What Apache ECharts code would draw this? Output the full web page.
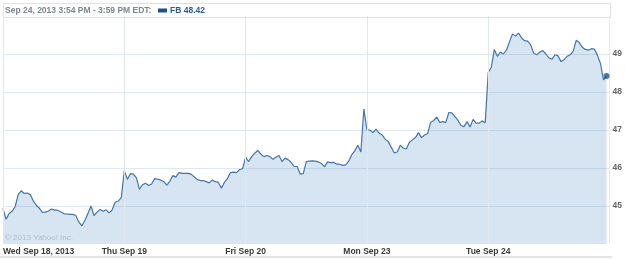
<!DOCTYPE html>
<html>
<head>
<meta charset="utf-8">
<script src="https://cdn.jsdelivr.net/npm/echarts@6/dist/echarts.min.js"></script>
<style>
  html, body { margin: 0; padding: 0; background: #fff; }
  #chart { width: 625px; height: 259px; }
</style>
</head>
<body>
<div id="chart"></div>
<script>
// 5-minute FB prices (40 samples per trading day)
const wed = [44.94,44.65,44.80,44.86,44.98,45.30,45.40,45.33,45.34,45.30,45.13,45.02,44.94,44.83,44.84,44.87,44.92,44.89,44.89,44.85,44.80,44.79,44.78,44.78,44.75,44.58,44.48,44.62,44.80,45.00,44.75,44.84,44.91,44.86,44.90,44.82,44.90,45.10,45.13,45.22];
const thu = [45.93,45.70,45.85,45.84,45.74,45.44,45.56,45.60,45.54,45.58,45.72,45.71,45.68,45.64,45.55,45.65,45.80,45.76,45.88,45.86,45.86,45.86,45.84,45.77,45.70,45.67,45.67,45.64,45.61,45.68,45.64,45.62,45.47,45.62,45.72,45.88,45.89,45.88,45.96,45.98];
const fri = [46.28,46.17,46.30,46.39,46.46,46.37,46.30,46.33,46.30,46.23,46.28,46.33,46.17,46.26,46.22,46.15,46.04,46.04,45.84,45.85,46.17,46.18,46.19,46.18,46.16,46.12,46.03,46.16,46.14,46.15,46.10,46.10,46.07,46.08,46.18,46.35,46.45,46.60,46.42,47.55];
const mon = [47.00,47.00,46.93,47.02,46.92,46.87,46.76,46.70,46.55,46.40,46.42,46.60,46.52,46.50,46.68,46.74,46.80,46.93,46.80,46.87,46.90,47.20,47.25,47.34,47.20,47.22,47.20,47.46,47.45,47.35,47.26,47.12,47.09,47.22,47.08,47.28,47.18,47.18,47.24,47.19];
const tue = [48.51,48.65,49.12,48.94,49.05,49.00,49.10,49.32,49.53,49.47,49.55,49.42,49.35,49.34,49.24,49.02,48.98,49.05,49.09,49.00,48.90,48.86,48.98,48.95,48.80,48.85,48.94,48.98,49.07,49.36,49.30,49.18,49.12,49.10,49.14,49.13,48.97,48.75,48.32,48.42];

const dayLabels = ['Wed Sep 18, 2013', 'Thu Sep 19', 'Fri Sep 20', 'Mon Sep 23', 'Tue Sep 24'];
const yTickLabels = [45, 46, 47, 48, 49];
const headerText = 'Sep 24, 2013 3:54 PM - 3:59 PM EDT:';
const legendText = 'FB 48.42';
const copyrightText = '\u00A9 2013 Yahoo! Inc.';

const days = [wed, thu, fri, mon, tue];
const data = [];
days.forEach((arr, d) => {
  arr.forEach((v, i) => data.push([d + i / arr.length, v]));
});
const lastPoint = data[data.length - 1];

const chart = echarts.init(document.getElementById('chart'), null, { renderer: 'canvas' });
const FONT = '"Liberation Sans", Arial, sans-serif';

chart.setOption({
  animation: false,
  backgroundColor: '#ffffff',
  grid: { left: 3, right: 14, top: 16, bottom: 15, containLabel: false },
  xAxis: {
    type: 'value',
    min: 0, max: 5, interval: 1,
    z: 3,
    axisLine: { show: false },
    axisTick: { show: false },
    splitLine: { show: true, lineStyle: { color: '#e1e8ee', width: 1 } },
    axisLabel: {
      formatter: v => dayLabels[v] || '',
      alignMinLabel: 'left',
      margin: 3,
      fontSize: 8.5,
      fontWeight: 'bold',
      fontFamily: FONT,
      color: '#3a3a3a'
    }
  },
  yAxis: {
    type: 'value',
    position: 'right',
    min: 44, max: 50, interval: 1,
    z: 3,
    axisLine: { show: false },
    axisTick: { show: false },
    splitLine: { show: true, showMinLine: false, showMaxLine: false,
      lineStyle: { color: 'rgba(110,150,185,0.22)', width: 1 } },
    axisLabel: {
      formatter: v => (yTickLabels.indexOf(v) >= 0 ? String(v) : ''),
      margin: 3,
      fontSize: 8.5,
      fontWeight: 'bold',
      fontFamily: FONT,
      color: '#666'
    }
  },
  series: [
    {
      type: 'line',
      data: data,
      showSymbol: false,
      symbol: 'none',
      z: 2,
      lineStyle: { color: '#4676a7', width: 1.2 },
      areaStyle: { color: '#d6e5f1', opacity: 1 }
    },
    {
      type: 'scatter',
      data: [lastPoint],
      symbol: 'circle',
      symbolSize: 6,
      z: 5,
      itemStyle: { color: '#1c5594' }
    }
  ],
  graphic: [
    { type: 'rect', z: 10, shape: { x: 3.5, y: 3.5, width: 607, height: 14 },
      style: { fill: 'none', stroke: '#dde3e8', lineWidth: 1 } },
    { type: 'text', z: 10, x: 5, y: 10.5,
      style: { text: headerText, fill: '#7b8793', font: 'bold 8.5px ' + FONT, verticalAlign: 'middle' } },
    { type: 'rect', z: 10, shape: { x: 158, y: 8.5, width: 9, height: 4 },
      style: { fill: '#1f4f8b' } },
    { type: 'text', z: 10, x: 170, y: 10.5,
      style: { text: legendText, fill: '#2a5b9b', font: 'bold 8.5px ' + FONT, verticalAlign: 'middle' } },
    { type: 'text', z: 10, x: 5, y: 237.5,
      style: { text: copyrightText, fill: '#afc1ce', font: '8px ' + FONT, verticalAlign: 'middle' } },
    { type: 'rect', z: 10, shape: { x: 0, y: 256, width: 612, height: 2 },
      style: { fill: '#e3e3e3' } }
  ]
});
</script>
</body>
</html>
